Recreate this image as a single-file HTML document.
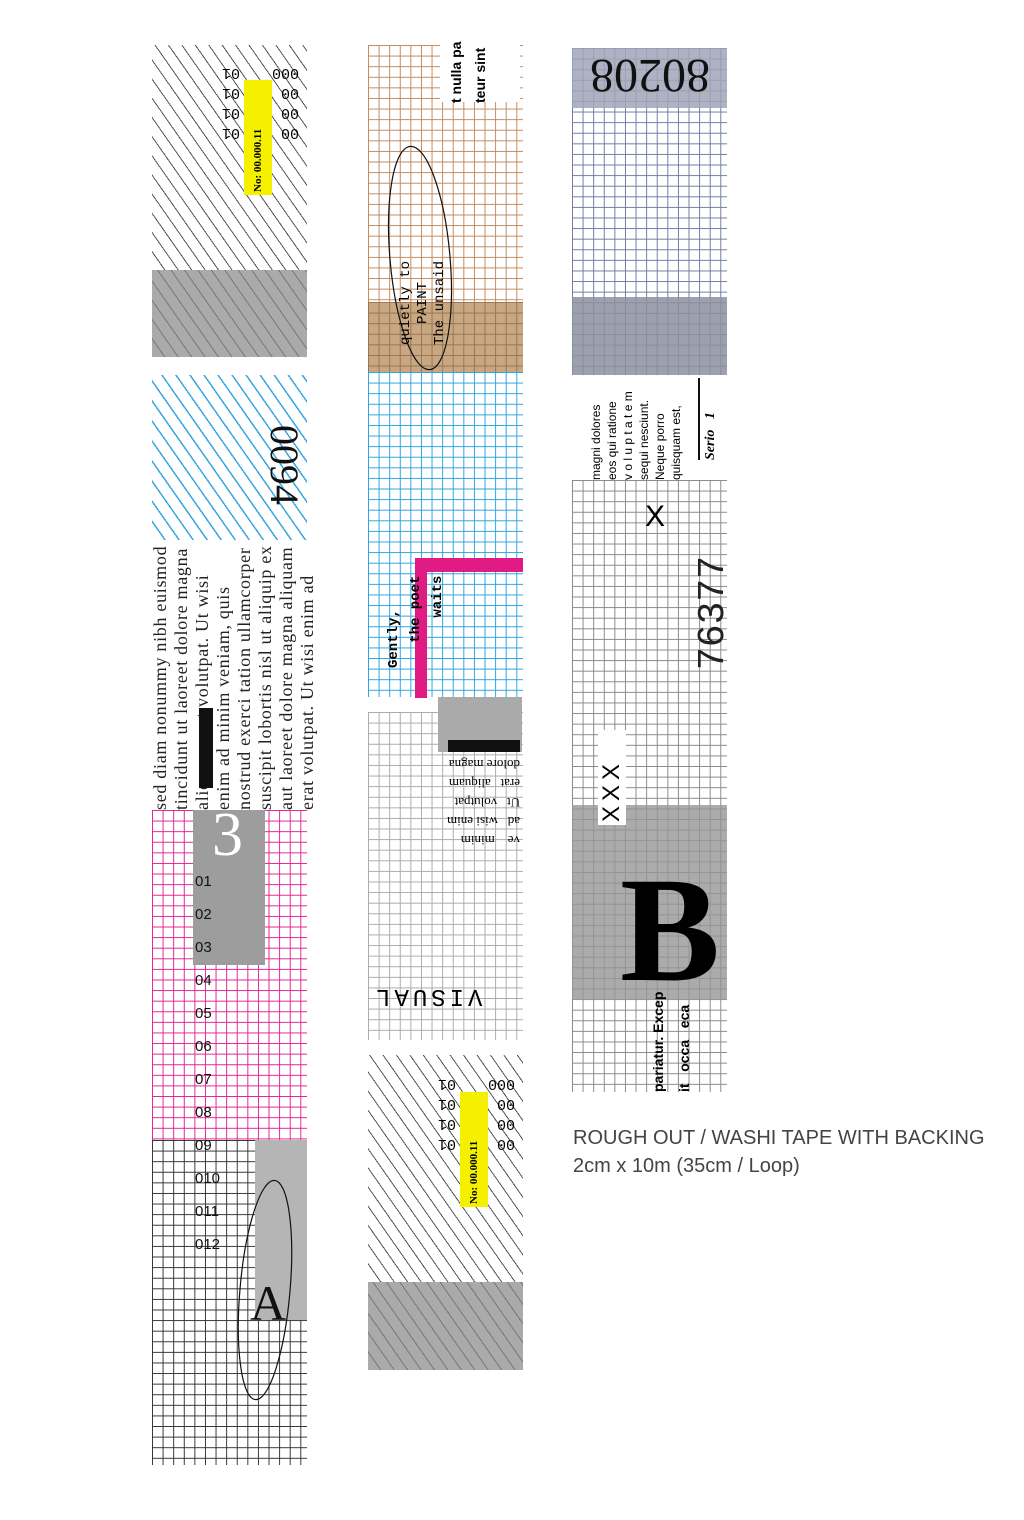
<!DOCTYPE html>
<html><head><meta charset="utf-8"><style>
body{margin:0;width:1024px;height:1520px;background:#fff;position:relative;overflow:hidden;font-family:"Liberation Sans",sans-serif}
.a{position:absolute}
.hatch{background:repeating-linear-gradient(55deg,#fff 0 10px,#555 10px 11px)}
.hatchb{background:repeating-linear-gradient(55deg,#fff 0 10px,#3aa7e0 10px 11.5px)}
.hatchg{background:repeating-linear-gradient(55deg,#aaa 0 10px,#777 10px 11px)}
.grid{background-image:linear-gradient(to right,var(--c) 1px,transparent 1px),linear-gradient(to bottom,var(--c) 1px,transparent 1px);background-size:10.6px 10.6px}
.rot{transform-origin:0 0;transform:rotate(-90deg);white-space:nowrap}
.rot90{transform-origin:0 0;transform:rotate(90deg);white-space:nowrap}
.r180{transform:rotate(180deg);font:15px 'Liberation Mono',monospace;line-height:20px}
.para div{height:21px;overflow:hidden}
</style></head><body>

<!-- Column 1 -->
<div class="a hatch" style="left:152px;top:45px;width:155px;height:225px"></div>
<div class="a hatchg" style="left:152px;top:270px;width:155px;height:87px"></div>
<div class="a" style="left:244px;top:80px;width:28px;height:115px;background:#f4f000"></div>
<div class="a rot" style="left:252px;top:192px;font:bold 11px 'Liberation Serif',serif">No: 00.000.11</div>
<div class="a r180" style="left:222px;top:62px">01<br>01<br>01<br>01</div>
<div class="a r180" style="left:272px;top:62px;text-align:left">00<br>00<br>00<br>000</div>

<div class="a hatchb" style="left:152px;top:375px;width:155px;height:165px"></div>
<div class="a rot90" style="left:308px;top:425px;font:40px 'Liberation Serif',serif;color:#111">0094</div>
<div class="a rot para" style="left:150px;top:810px;width:272px;font:18px/21px 'Liberation Serif',serif;letter-spacing:0.7px;color:#222">
<div>sed diam nonummy nibh euismod</div><div>tincidunt ut laoreet dolore magna</div><div>aliquam erat volutpat. Ut wisi</div><div>enim ad minim veniam, quis</div><div>nostrud exerci tation ullamcorper</div><div>suscipit lobortis nisl ut aliquip ex</div><div>aut laoreet dolore magna aliquam</div><div>erat volutpat. Ut wisi enim ad</div></div>
<div class="a" style="left:199px;top:708px;width:14px;height:80px;background:#111"></div>

<div class="a grid" style="--c:#e0268f;left:152px;top:810px;width:155px;height:330px"></div>
<div class="a" style="left:193px;top:810px;width:72px;height:155px;background:#9d9d9d"></div>
<div class="a" style="left:212px;top:800px;font:62px 'Liberation Serif',serif;color:#fff">3</div>
<div class="a grid" style="--c:#333;left:152px;top:1140px;width:155px;height:325px"></div>
<div class="a" style="left:255px;top:1140px;width:52px;height:180px;background:#b5b5b5"></div>
<div class="a" style="left:195px;top:865px;line-height:33px;font-size:15px;color:#111">01<br>02<br>03<br>04<br>05<br>06<br>07<br>08<br>09<br>010<br>011<br>012</div>
<svg class="a" style="left:220px;top:1170px" width="90" height="240"><ellipse cx="45" cy="120" rx="25" ry="110" fill="none" stroke="#111" stroke-width="1.2" transform="rotate(5 45 120)"/><text x="30" y="150" font-size="50" font-family="Liberation Serif" fill="#111">A</text></svg>

<!-- Column 2 -->
<div class="a grid" style="--c:#c08a5e;left:368px;top:45px;width:155px;height:257px"></div>
<div class="a grid" style="--c:#9a7450;left:368px;top:302px;width:155px;height:70px;background-color:#c7a882"></div>
<div class="a" style="left:440px;top:40px;width:80px;height:62px;background:#fff"></div>
<div class="a rot" style="left:444px;top:103px;font:bold 14px/24px 'Liberation Sans',sans-serif">t nulla pa<br>teur sint</div>
<svg class="a" style="left:380px;top:145px" width="80" height="230"><ellipse cx="40" cy="113" rx="30" ry="112" fill="none" stroke="#111" stroke-width="1.2" transform="rotate(-5 40 113)"/></svg>
<div class="a rot" style="left:398px;top:345px;font:14px/17px 'Liberation Mono',monospace;text-align:center">quietly to<br>PAINT<br>The unsaid</div>

<div class="a grid" style="--c:#2fa3dd;left:368px;top:372px;width:155px;height:325px"></div>
<div class="a" style="left:415px;top:558px;width:12px;height:140px;background:#e01b84"></div>
<div class="a" style="left:415px;top:558px;width:108px;height:14px;background:#e01b84"></div>
<div class="a rot" style="left:383px;top:668px;font:bold 14px/22px 'Liberation Mono',monospace">Gently,<br>&nbsp;&nbsp;&nbsp;the poet<br>&nbsp;&nbsp;&nbsp;&nbsp;&nbsp;&nbsp;waits</div>

<div class="a grid" style="--c:#aaa;left:368px;top:712px;width:155px;height:328px"></div>
<div class="a" style="left:438px;top:697px;width:84px;height:55px;background:#aaa"></div>
<div class="a" style="left:448px;top:740px;width:72px;height:12px;background:#111"></div>
<div class="a" style="left:400px;top:755px;width:120px;font:13px/19px 'Liberation Serif',serif;transform:rotate(180deg);text-align:left">ve&nbsp;&nbsp;&nbsp;&nbsp;minim<br>ad&nbsp;&nbsp;&nbsp;wisi enim<br>Ut&nbsp;&nbsp;&nbsp;volutpat<br>erat&nbsp;&nbsp;&nbsp;aliquam<br>dolore magna</div>
<div class="a" style="left:372px;top:982px;font:24px 'Liberation Mono',monospace;letter-spacing:4px;transform:rotate(180deg)">VISUAL</div>

<div class="a hatch" style="left:368px;top:1055px;width:155px;height:227px"></div>
<div class="a hatchg" style="left:368px;top:1282px;width:155px;height:88px"></div>
<div class="a" style="left:460px;top:1092px;width:28px;height:115px;background:#f4f000"></div>
<div class="a rot" style="left:468px;top:1204px;font:bold 11px 'Liberation Serif',serif">No: 00.000.11</div>
<div class="a r180" style="left:438px;top:1073px">01<br>01<br>01<br>01</div>
<div class="a r180" style="left:488px;top:1073px">00<br>00<br>00<br>000</div>

<!-- Column 3 -->
<div class="a grid" style="--c:#6f7aa0;left:572px;top:48px;width:155px;height:327px"></div>
<div class="a" style="left:572px;top:48px;width:155px;height:60px;background:rgba(160,165,185,.85)"></div>
<div class="a" style="left:590px;top:55px;font:48px 'Liberation Serif',serif;color:#111;transform:rotate(180deg);transform-origin:60px 24px">80208</div>
<div class="a" style="left:572px;top:297px;width:155px;height:78px;background:rgba(140,145,160,.85)"></div>
<div class="a rot" style="left:588px;top:480px;font:12px/16px 'Liberation Sans',sans-serif;width:105px;text-align:justify">magni dolores<br>eos qui ratione<br>v o l u p t a t e m<br>sequi nesciunt.<br>Neque porro<br>quisquam est,</div>
<div class="a rot" style="left:703px;top:460px;font:bold italic 14px 'Liberation Serif',serif">Serio &nbsp;&nbsp;1</div>
<div class="a" style="left:698px;top:378px;width:2px;height:82px;background:#111"></div>

<div class="a grid" style="--c:#888;left:572px;top:480px;width:155px;height:612px"></div>
<div class="a" style="left:572px;top:805px;width:155px;height:195px;background:rgba(150,150,150,.8)"></div>
<div class="a rot" style="left:692px;top:670px;font:38px 'Liberation Mono',monospace;color:#222">76377</div>
<div class="a" style="left:645px;top:500px;font:30px 'Liberation Sans',sans-serif">X</div>
<div class="a" style="left:598px;top:730px;width:28px;height:95px;background:#fff"></div>
<div class="a rot" style="left:598px;top:822px;font:24px 'Liberation Sans',sans-serif;letter-spacing:5px">XXX</div>
<div class="a" style="left:620px;top:855px;font:bold 150px/150px 'Liberation Serif',serif">B</div>
<div class="a rot" style="left:645px;top:1092px;font:bold 14px/26px 'Liberation Sans',sans-serif">pariatur. Excep<br>it &nbsp;&nbsp;occa &nbsp;&nbsp;eca</div>

<div class="a" style="left:573px;top:1124px;font:20px/28px 'Liberation Sans',sans-serif;color:#444">ROUGH OUT / WASHI TAPE WITH BACKING<br>2cm x 10m (35cm / Loop)</div>
</body></html>
